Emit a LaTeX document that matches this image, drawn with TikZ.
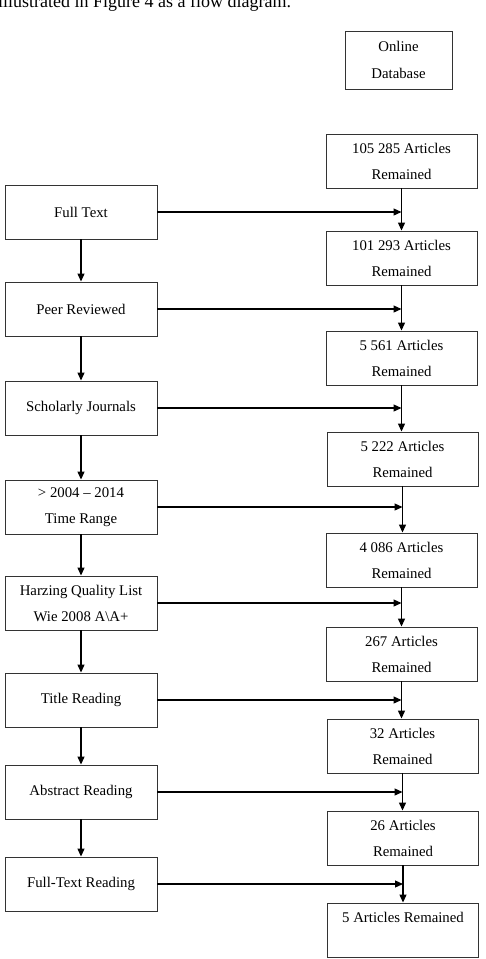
\documentclass[tikz,border=0pt]{standalone}
\usepackage{fontspec}
\setmainfont{Liberation Serif}
\usetikzlibrary{arrows.meta}
\usetikzlibrary{positioning}

\begin{document}
\begin{tikzpicture}[x=1pt, y=-1pt,
        >={Triangle[length=8pt, width=7pt]},
        critbox/.style={rectangle, draw=black!80, line width=0.9pt, minimum width=152pt, minimum height=54pt, align=center, font=\fontsize{14.8}{26}\selectfont},
        countbox/.style={rectangle, draw=black!80, line width=0.9pt, minimum width=151pt, minimum height=54pt, align=center, font=\fontsize{14.8}{26}\selectfont},
        srcbox/.style={rectangle, draw=black!80, line width=0.9pt, minimum width=107pt, minimum height=58pt, align=center, font=\fontsize{14.8}{27}\selectfont},
        flow/.style={->, line width=1.2pt}
      ]
        \useasboundingbox (0, 0) rectangle (486, 959);
        \clip (0, 0) rectangle (486, 959);
        \node[anchor=base west, inner sep=0pt, font=\fontsize{18}{22}\selectfont] (intro) at(-2, 7) {illustrated in Figure 4 as a flow diagram.};

        \node[srcbox]    (db)     at(398.5, 60)                  {Online\\Database};

        \node[critbox]   (full)   at(81, 212)                    {Full Text};
        \node[critbox]   (peer)   at(81, 309)                    {Peer Reviewed};
        \node[critbox]   (schol)  at(81, 408)                    {Scholarly Journals};
        \node[critbox]   (range)  at(81, 507)                    {> 2004 -- 2014\\Time Range};
        \node[critbox]   (harz)   at(81, 603)                    {Harzing Quality List\\Wie 2008 A\textbackslash A+};
        \node[critbox]   (title)  at(81, 700)                    {Title Reading};
        \node[critbox]   (abst)   at(81, 792)                    {Abstract Reading};
        \node[critbox]   (ftread) at(81, 884)                    {Full-Text Reading};

        \node[countbox]  (rem1)   at(401.5, 161)                 {105 285 Articles\\Remained};
        \node[countbox]  (rem2)   at(401.5, 258)                 {101 293 Articles\\Remained};
        \node[countbox]  (rem3)   at(401.5, 358)                 {5 561 Articles\\Remained};
        \node[countbox]  (rem4)   at(402.5, 459)                 {5 222 Articles\\Remained};
        \node[countbox]  (rem5)   at(401.5, 560)                 {4 086 Articles\\Remained};
        \node[countbox]  (rem6)   at(401.5, 654)                 {267 Articles\\Remained};
        \node[countbox]  (rem7)   at(402.5, 746)                 {32 Articles\\Remained};
        \node[countbox]  (rem8)   at(403, 838)                   {26 Articles\\Remained};
        \node[countbox]  (rem9)   at(403, 930)                   {5 Articles Remained\\~};

        \draw[flow]  (full.south)  -- (peer.north);
        \draw[flow]  (peer.south)  -- (schol.north);
        \draw[flow]  (schol.south) -- (range.north);
        \draw[flow]  (range.south) -- (harz.north);
        \draw[flow]  (harz.south)  -- (title.north);
        \draw[flow]  (title.south) -- (abst.north);
        \draw[flow]  (abst.south)  -- (ftread.north);

        \draw[flow]  (rem1.south) -- (rem1.south |- rem2.north);
        \draw[flow]  (rem2.south) -- (rem2.south |- rem3.north);
        \draw[flow]  (rem3.south) -- (rem3.south |- rem4.north);
        \draw[flow]  (rem4.south) -- (rem4.south |- rem5.north);
        \draw[flow]  (rem5.south) -- (rem5.south |- rem6.north);
        \draw[flow]  (rem6.south) -- (rem6.south |- rem7.north);
        \draw[flow]  (rem7.south) -- (rem7.south |- rem8.north);
        \draw[flow]  (rem8.south) -- (rem8.south |- rem9.north);

        \draw[flow]  (full.east)   -- (full.east -| rem1.south);
        \draw[flow]  (peer.east)   -- (peer.east -| rem2.south);
        \draw[flow]  (schol.east)  -- (schol.east -| rem3.south);
        \draw[flow]  (range.east)  -- (range.east -| rem4.south);
        \draw[flow]  (harz.east)   -- (harz.east -| rem5.south);
        \draw[flow]  (title.east)  -- (title.east -| rem6.south);
        \draw[flow]  (abst.east)   -- (abst.east -| rem7.south);
        \draw[flow]  (ftread.east) -- (ftread.east -| rem8.south);
      \end{tikzpicture}
\end{document}
